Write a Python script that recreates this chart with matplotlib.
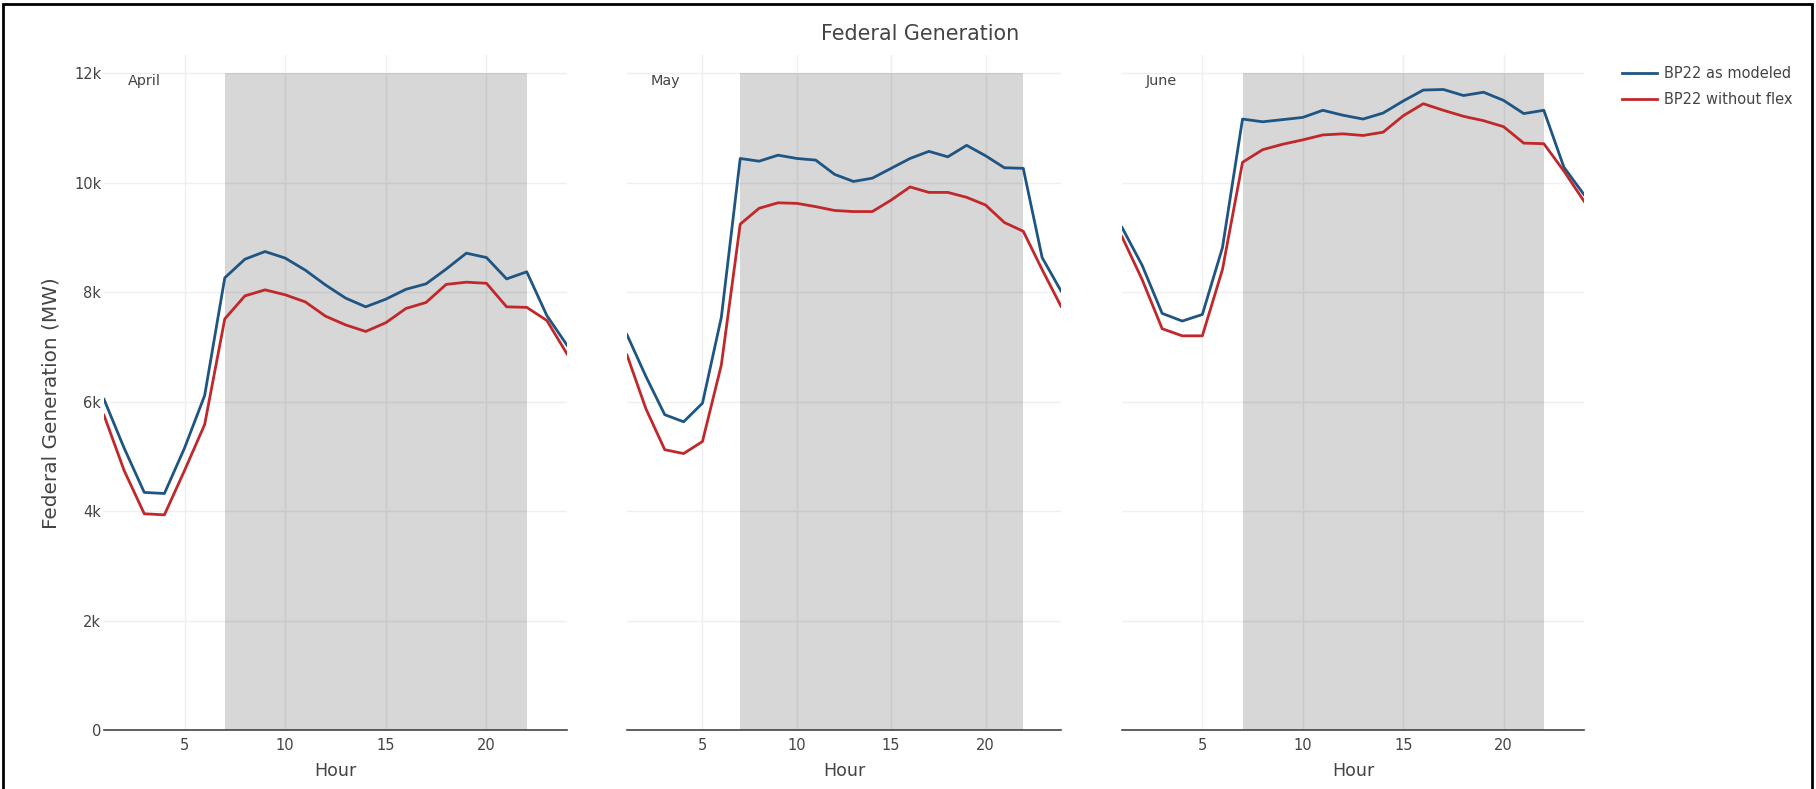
import matplotlib
matplotlib.use("Agg")
import matplotlib.pyplot as plt
from matplotlib.patches import Rectangle

plt.rcParams['font.family'] = ['DejaVu Sans']
TXT = '#444444'

hours = list(range(1, 25))
months = ["April", "May", "June"]

april_modeled = [6.04, 5.15, 4.34, 4.32, 5.15, 6.11, 8.26, 8.60, 8.74, 8.62, 8.40, 8.13,
                 7.89, 7.73, 7.87, 8.05, 8.15, 8.42, 8.71, 8.63, 8.24, 8.37, 7.57, 7.03]
april_noflex = [5.75, 4.74, 3.95, 3.93, 4.74, 5.58, 7.51, 7.93, 8.04, 7.95, 7.82, 7.56,
                7.40, 7.28, 7.44, 7.70, 7.81, 8.14, 8.18, 8.16, 7.73, 7.72, 7.48, 6.87]
may_modeled = [7.22, 6.46, 5.76, 5.63, 5.97, 7.54, 10.44, 10.39, 10.50, 10.44, 10.41, 10.15,
               10.02, 10.08, 10.26, 10.44, 10.57, 10.47, 10.68, 10.49, 10.27, 10.26, 8.63, 8.02]
may_noflex = [6.85, 5.87, 5.12, 5.05, 5.27, 6.67, 9.24, 9.53, 9.63, 9.62, 9.56, 9.49,
              9.47, 9.47, 9.68, 9.92, 9.82, 9.82, 9.73, 9.59, 9.27, 9.11, 8.41, 7.74]
june_modeled = [9.18, 8.49, 7.61, 7.47, 7.59, 8.81, 11.16, 11.11, 11.15, 11.19, 11.32, 11.23,
                11.16, 11.27, 11.49, 11.69, 11.70, 11.59, 11.65, 11.50, 11.26, 11.32, 10.28, 9.78]
june_noflex = [9.01, 8.23, 7.33, 7.20, 7.20, 8.41, 10.37, 10.60, 10.70, 10.78, 10.87, 10.89,
               10.86, 10.92, 11.22, 11.44, 11.32, 11.21, 11.13, 11.02, 10.72, 10.71, 10.21, 9.66]

modeled = [april_modeled, may_modeled, june_modeled]
noflex = [april_noflex, may_noflex, june_noflex]

peak_start, peak_end = 7, 22
yticks = [0, 2000, 4000, 6000, 8000, 10000, 12000]
ytick_labels = ["0", "2k", "4k", "6k", "8k", "10k", "12k"]

W, H = 1816, 789
fig = plt.figure(figsize=(W / 100, H / 100), dpi=100)

# axes boxes in pixels: left, right
boxes = [(104, 567), (627, 1061), (1122, 1584)]
top_px, bot_px = 55, 730

for i, (l, r) in enumerate(boxes):
    ax = fig.add_axes([l / W, (H - bot_px) / H, (r - l) / W, (bot_px - top_px) / H])
    ax.set_axisbelow(True)
    ax.axvspan(peak_start, peak_end, ymin=0, ymax=12000 / 12330, color='black', alpha=0.155,
               lw=0, zorder=1)
    ax.plot(hours, [v * 1000 for v in modeled[i]], color='#1f5582', lw=2,
            label='BP22 as modeled', zorder=3)
    ax.plot(hours, [v * 1000 for v in noflex[i]], color='#c0282b', lw=2,
            label='BP22 without flex', zorder=3)
    ax.set_xlim(1, 24)
    ax.set_ylim(0, 12330)
    ax.set_xticks([5, 10, 15, 20])
    ax.set_yticks(yticks)
    ax.grid(True, color='#efefef', lw=1)
    for s in ['top', 'right', 'left']:
        ax.spines[s].set_visible(False)
    ax.spines['bottom'].set_color('#444444')
    ax.spines['bottom'].set_linewidth(1.2)
    ax.tick_params(length=0, labelsize=10.5, colors=TXT, pad=6)
    if i == 0:
        ax.set_yticklabels(ytick_labels)
        ax.tick_params(axis='y', pad=2)
    else:
        ax.set_yticklabels([])
    ax.set_xlabel("Hour", fontsize=12.6, color=TXT, labelpad=6)
    ax.annotate(months[i], xy=(0, 12000), xycoords=('axes fraction', 'data'),
                xytext=(17, -6), textcoords='offset points',
                ha='left', va='center', fontsize=10.4, color=TXT)
    if i == 0:
        handles, labels = ax.get_legend_handles_labels()

fig.text(51 / W, 1 - 403 / H, "Federal Generation (MW)", rotation=90, ha='center',
         va='center', fontsize=14.4, color=TXT)
fig.text(920 / W, 1 - 34 / H, "Federal Generation", ha='center', va='center',
         fontsize=14.9, color=TXT)

fig.legend(handles, labels, loc='upper left', bbox_to_anchor=(1622 / W, 1 - 66 / H),
           frameon=False, fontsize=10.5, handlelength=2.4, handletextpad=0.5,
           borderpad=0, borderaxespad=0, labelspacing=0.75, labelcolor=TXT)

fig.patches.append(Rectangle((3 / W, -0.05), 1 - 7 / W, 1.05 - 4 / H, transform=fig.transFigure,
                             fill=False, ec='black', lw=2))

fig.savefig("out.png", dpi=100)
